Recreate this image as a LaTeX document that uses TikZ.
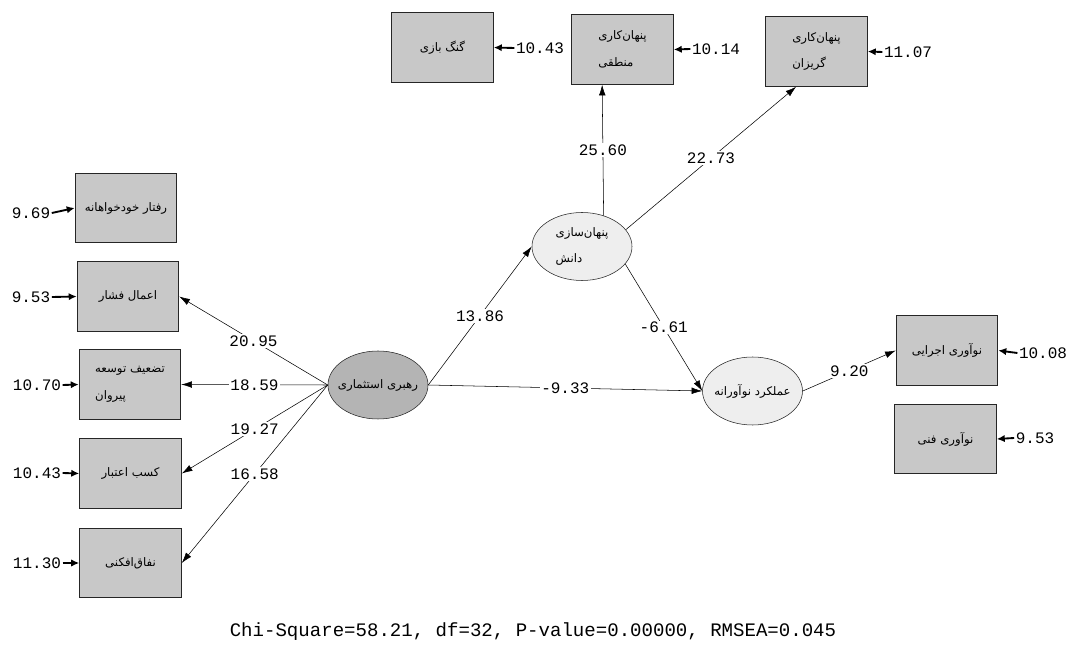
\documentclass[tikz,border=0pt]{standalone}
\usepackage{fontspec}
\setmonofont{Liberation Mono}
\newfontfamily\fafont[Script=Arabic]{DejaVu Sans}
\TeXXeTstate=1
\usetikzlibrary{positioning, arrows.meta, shapes.geometric}
\definecolor{BoxColor}{RGB}{200,200,200}
\definecolor{LatentDark}{RGB}{180,180,180}
\definecolor{LatentLight}{RGB}{238,238,238}
\tikzset{
  indicator/.style={rectangle, draw=black!85, line width=0.9pt, fill=BoxColor, minimum width=76pt, minimum height=52pt, inner sep=2pt, align=left, font=\fafont\fontsize{8.8}{20}\selectfont},
  latent/.style={ellipse, draw=black!85, thin, fill=LatentLight, minimum width=75pt, minimum height=51pt, inner ysep=0pt, inner xsep=-7pt, align=left, font=\fafont\fontsize{8.8}{20}\selectfont},
  path arrow/.style={-{Latex[length=8pt,width=5pt]}, thin, black},
  error arrow/.style={-{Latex[length=6pt,width=5.5pt]}, line width=1.4pt, black},
  coef/.style={fill=white, inner sep=1pt, font=\ttfamily\fontsize{12}{12}\selectfont},
  err val/.style={inner sep=1pt, font=\ttfamily\fontsize{12}{12}\selectfont}
}
\begin{document}
\begin{tikzpicture}[x=0.75pt, y=-0.75pt]
  \useasboundingbox (0,0) rectangle (1068,645);

  % Latent variables
  \node[latent, fill=LatentDark] (rl) at (378,385) {\beginR رهبری استثماری\endR};
  \node[latent] (kh) at (582,246.5) {\beginR پنهان‌سازی\endR\\\beginR دانش\endR};
  \node[latent] (am) at (752.5,391) {\beginR عملکرد نوآورانه\endR};

  % Indicators of knowledge hiding
  \node[indicator] (gb) at (442.5,47.5) {\beginR گنگ بازی\endR};
  \node[indicator] (kl) at (622.5,49.5) {\beginR پنهان‌کاری\endR\\\beginR منطقی\endR};
  \node[indicator] (ke) at (816.5,51.5) {\beginR پنهان‌کاری\endR\\\beginR گریزان\endR};

  % Indicators of exploitative leadership
  \node[indicator] (r1) at (126,208) {\beginR رفتار خودخواهانه\endR};
  \node[indicator] (r2) at (128,296.5) {\beginR اعمال فشار\endR};
  \node[indicator] (r3) at (130,384.5) {\beginR تضعیف توسعه\endR\\\beginR پیروان\endR};
  \node[indicator] (r4) at (130.5,473.5) {\beginR کسب اعتبار\endR};
  \node[indicator] (r5) at (130.5,563) {\beginR نفاق‌افکنی\endR};

  % Indicators of innovative performance
  \node[indicator] (ni) at (947,350.5) {\beginR نوآوری اجرایی\endR};
  \node[indicator] (nf) at (945.5,439) {\beginR نوآوری فنی\endR};

  % Error variances
  \node[err val] (egb) at (540,48) {10.43};
  \node[err val] (ekl) at (716,49) {10.14};
  \node[err val] (eke) at (908,52) {11.07};
  \node[err val] (er1) at (31,213) {9.69};
  \node[err val] (er2) at (31,297) {9.53};
  \node[err val] (er3) at (37,385) {10.70};
  \node[err val] (er4) at (37,473) {10.43};
  \node[err val] (er5) at (37,563) {11.30};
  \node[err val] (eni) at (1043,353) {10.08};
  \node[err val] (enf) at (1035,438) {9.53};

  \foreach \b in {gb,kl,ke,ni,nf}
    \draw[error arrow] (e\b.west) -- (\b.east);
  \foreach \b in {r1,r2,r3,r4,r5}
    \draw[error arrow] (e\b.east) -- (\b.west);

  % Loadings of exploitative leadership
  \foreach \b/\v in {r2/20.95, r3/18.59, r4/19.27, r5/16.58}
    \draw[path arrow] (rl.west) -- node[coef] {\v} (\b.east);

  % Loadings of knowledge hiding
  \draw[path arrow] (kh.55) -- node[coef] {25.60} (kl.-120);
  \draw[path arrow] (kh.21) -- node[coef] {22.73} (ke.-120);

  % Structural paths
  \draw[path arrow] (rl.east) -- node[coef] {13.86} (kh.west);
  \draw[path arrow] (rl.east) -- node[coef] {-9.33} (am.west);
  \draw[path arrow] (kh.-22) -- node[coef] {-6.61} (am.west);
  \draw[path arrow] (am.east) -- node[coef] {9.20} (ni.west);

  % Fit indices
  \node[font=\ttfamily\fontsize{14.3}{14.3}\selectfont] (fit) at (533,632) {Chi-Square=58.21, df=32, P-value=0.00000, RMSEA=0.045};
\end{tikzpicture}
\end{document}
